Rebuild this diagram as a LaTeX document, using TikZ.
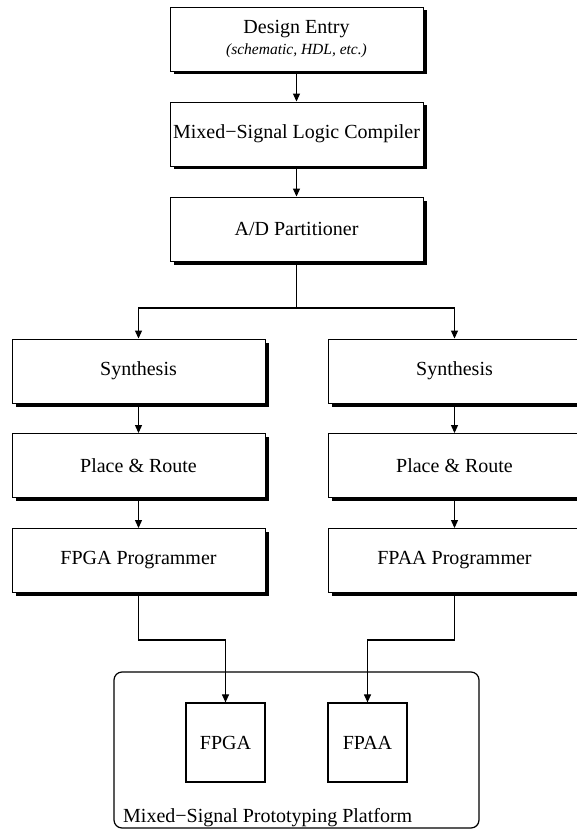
\documentclass[tikz,border=0pt]{standalone}
\usepackage{fontspec}
\setmainfont{Liberation Serif}
\usetikzlibrary{arrows.meta,shadows}
\begin{document}
\begin{tikzpicture}[x=1pt,y=-1pt,
  font=\fontsize{20}{23.5}\selectfont,
  flowbox/.style={draw=black, line width=0.9pt, fill=white, inner sep=0pt,
    minimum width=253pt, minimum height=64pt, align=center,
    drop shadow={shadow xshift=3.5pt, shadow yshift=-3.5pt, fill=black, opacity=1}},
  chip/.style={draw=black, line width=1.2pt, fill=white, inner sep=0pt,
    minimum width=79pt, minimum height=79pt},
  link/.style={line width=1.1pt, -{Triangle[length=8pt,width=7pt]}},
  wire/.style={line width=1.1pt}]
\useasboundingbox (0,0) rectangle (576,829);

% design flow down the middle
\node[flowbox] (entry) at (296.5,39)
  {Design Entry\\[-2pt]{\fontsize{15.5}{18}\selectfont\itshape (schematic, HDL, etc.)}};
\node[flowbox] (compiler) at (296.5,134) {Mixed−Signal Logic Compiler};
\node[flowbox] (part) at (296.5,229) {A/D Partitioner};

% digital branch
\node[flowbox] (synA) at (138.5,371) {Synthesis};
\node[flowbox] (prA) at (138.5,465.5) {Place \& Route};
\node[flowbox] (progA) at (138.5,560.5) {FPGA Programmer};

% analog branch
\node[flowbox] (synB) at (454.5,371) {Synthesis};
\node[flowbox] (prB) at (454.5,465.5) {Place \& Route};
\node[flowbox] (progB) at (454.5,560.5) {FPAA Programmer};

% prototyping platform
\draw[line width=1.2pt, rounded corners=8pt] (114,672) rectangle (479,828);
\node[anchor=base west, inner sep=0pt] (plat) at (123,822) {Mixed−Signal Prototyping Platform};
\node[chip] (fpga) at (225.5,742.5) {FPGA};
\node[chip] (fpaa) at (367.5,742.5) {FPAA};

% connectors
\coordinate (split) at (296.5,308);
\coordinate (kA) at (138.5,640);
\coordinate (kB) at (454.5,640);

\draw[link] (entry) -- (compiler);
\draw[link] (compiler) -- (part);
\draw[wire] (part.south) -- (split);
\draw[link] (split) -| (synA.north);
\draw[link] (split) -| (synB.north);
\draw[link] (synA) -- (prA);
\draw[link] (prA) -- (progA);
\draw[link] (synB) -- (prB);
\draw[link] (prB) -- (progB);
\draw[link] (progA.south) -- (kA) -| (fpga.north);
\draw[link] (progB.south) -- (kB) -| (fpaa.north);
\end{tikzpicture}
\end{document}
